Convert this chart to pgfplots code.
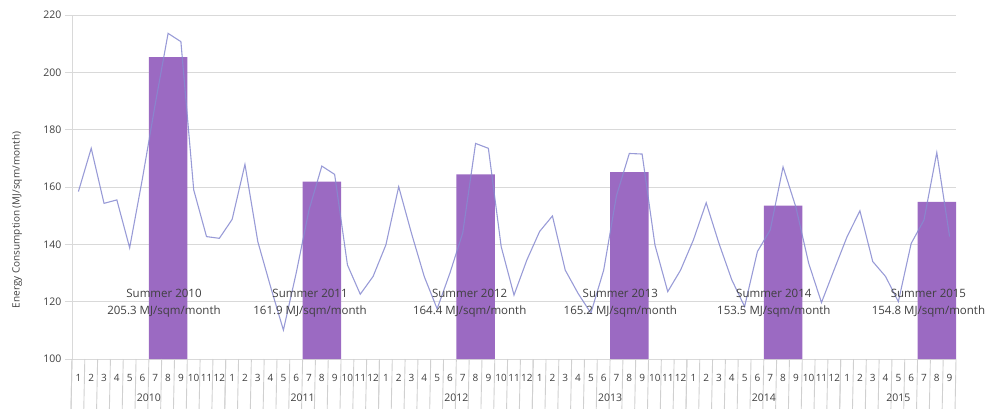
\documentclass[border=0pt]{standalone}
\usepackage{fontspec}
\setmainfont{Open Sans}
\usepackage{pgfplots}
\pgfplotsset{compat=1.18}
\definecolor{barc}{RGB}{155,106,194}
\definecolor{linec}{RGB}{135,138,208}
\definecolor{gridc}{RGB}{217,217,217}
\definecolor{sepc}{RGB}{208,208,208}
\definecolor{txtc}{RGB}{64,64,64}
\pgfplotstableread{
x y
1 158.4
2 173.5
3 154.3
4 155.5
5 138.8
6 163
7 189
8 213.6
9 210.7
10 159.0
11 142.7
12 142.1
13 148.7
14 167.9
15 141
16 125.2
17 110.1
18 130
19 152
20 167.3
21 164.4
22 132.8
23 122.6
24 128.8
25 139.8
26 160.1
27 143.8
28 128.7
29 117.5
30 130
31 144
32 175.2
33 173.5
34 139.2
35 122.3
36 134.5
37 144.5
38 149.9
39 131.0
40 122.9
41 116
42 131
43 157
44 171.7
45 171.5
46 139.8
47 123.5
48 131
49 141.5
50 154.5
51 140.3
52 127.6
53 118.3
54 137.5
55 145
56 167.0
57 153
58 133.4
59 119.7
60 131.3
61 142.7
62 151.7
63 134
64 128.8
65 120
66 140.3
67 148.5
68 172.0
69 142.7
}\monthly
\pgfplotstableread{
x y
8 205.3
20 161.9
32 164.4
44 165.2
56 153.5
68 154.8
}\summer
\begin{document}
\begin{tikzpicture}
\begin{axis}[
  at={(72pt,49pt)}, anchor=south west,
  scale only axis, width=884pt, height=344pt,
  xmin=0.5, xmax=69.5, ymin=100, ymax=220,
  ytick={100,120,...,220},
  xtick={1,...,69},
  xticklabels={1,2,3,4,5,6,7,8,9,10,11,12,1,2,3,4,5,6,7,8,9,10,11,12,1,2,3,4,5,6,7,8,9,10,11,12,1,2,3,4,5,6,7,8,9,10,11,12,1,2,3,4,5,6,7,8,9,10,11,12,1,2,3,4,5,6,7,8,9},
  ymajorgrids, grid style={gridc, line width=0.9pt},
  axis x line*=bottom, axis y line*=left,
  axis line style={gridc, line width=0.9pt},
  xtick style={draw=none},
  ytick style={draw=gridc, line width=0.9pt},
  tick align=outside, major tick length=7pt,
  xticklabel style={font=\fontsize{10}{12}\selectfont, text=txtc, yshift=-5pt, inner xsep=0pt},
  yticklabel style={font=\fontsize{10.5}{12}\selectfont, text=txtc},
  /pgf/number format/assume math mode=true,
  clip mode=individual,
]
\addplot[ybar, bar width=3, bar shift=0pt, fill=barc, draw=none] table[x=x,y=y]{\summer};
\addplot[linec, line width=1.1pt, opacity=0.85, mark=none] table[x=x,y=y]{\monthly};
% month separators
\pgfplotsinvokeforeach{0,...,68}{
  \draw[sepc, line width=0.9pt] (axis cs:#1.5,100) -- ++(0,-25pt);
}
\pgfplotsinvokeforeach{0,12,24,36,48,60,69}{
  \draw[sepc, line width=0.9pt] (axis cs:#1.5,100) -- ++(0,-49pt);
}
\node[font=\fontsize{10.5}{12}\selectfont, text=txtc] at (axis cs:6.5,100) [yshift=-39pt] {2010};
\node[font=\fontsize{10.5}{12}\selectfont, text=txtc] at (axis cs:18.5,100) [yshift=-39pt] {2011};
\node[font=\fontsize{10.5}{12}\selectfont, text=txtc] at (axis cs:30.5,100) [yshift=-39pt] {2012};
\node[font=\fontsize{10.5}{12}\selectfont, text=txtc] at (axis cs:42.5,100) [yshift=-39pt] {2013};
\node[font=\fontsize{10.5}{12}\selectfont, text=txtc] at (axis cs:54.5,100) [yshift=-39pt] {2014};
\node[font=\fontsize{10.5}{12}\selectfont, text=txtc] at (axis cs:65,100) [yshift=-39pt] {2015};
\node[font=\fontsize{11.5}{17}\selectfont, text=txtc, align=center] at (axis cs:7.68,119.3) {Summer 2010\\205.3 MJ/sqm/month};
\node[font=\fontsize{11.5}{17}\selectfont, text=txtc, align=center] at (axis cs:19.08,119.3) {Summer 2011\\161.9 MJ/sqm/month};
\node[font=\fontsize{11.5}{17}\selectfont, text=txtc, align=center] at (axis cs:31.54,119.3) {Summer 2012\\164.4 MJ/sqm/month};
\node[font=\fontsize{11.5}{17}\selectfont, text=txtc, align=center] at (axis cs:43.3,119.3) {Summer 2013\\165.2 MJ/sqm/month};
\node[font=\fontsize{11.5}{17}\selectfont, text=txtc, align=center] at (axis cs:55.28,119.3) {Summer 2014\\153.5 MJ/sqm/month};
\node[font=\fontsize{11.5}{17}\selectfont, text=txtc, align=center] at (axis cs:67.35,119.3) {Summer 2015\\154.8 MJ/sqm/month};
\end{axis}
\node[rotate=90, font=\fontsize{10}{12}\selectfont, text=txtc] at (17pt,188pt) {Energy Consumption (MJ/sqm/month)};
\pgfresetboundingbox
\useasboundingbox (0pt,0pt) rectangle (992pt,408pt);
\end{tikzpicture}
\end{document}
